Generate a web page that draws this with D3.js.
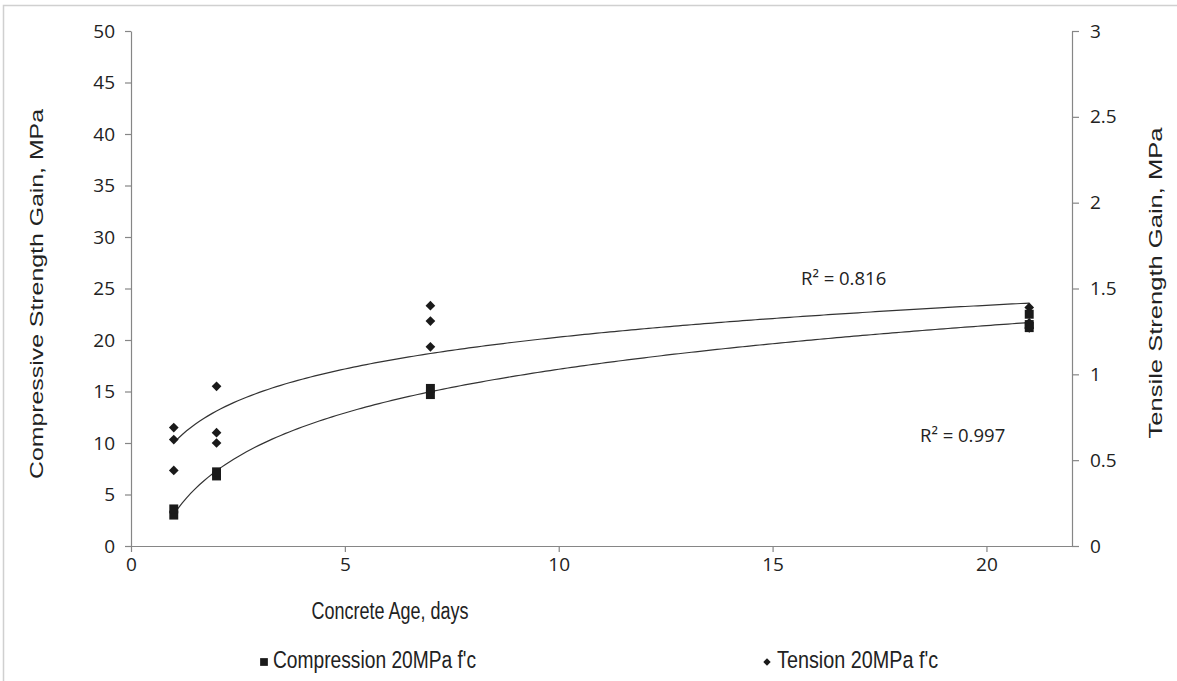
<!DOCTYPE html>
<html><head><meta charset="utf-8">
<script src="https://cdn.jsdelivr.net/npm/d3@7"></script>
<style>body{margin:0;background:#fff}svg{display:block}</style>
</head><body>
<script>
const compDays = [1,1,2,2,7,7,21,21,21];
const compValues = [3.0,3.6,6.8,7.2,14.7,15.3,22.5,21.5,21.2];
const tensDays = [1,1,1,2,2,2,7,7,7,21,21,21];
const tensValues = [0.69,0.62,0.44,0.93,0.66,0.60,1.40,1.31,1.16,1.39,1.30,1.27];
const xTicks = [0,5,10,15,20];
const leftTicks = [0,5,10,15,20,25,30,35,40,45,50];
const rightTicks = [0,0.5,1,1.5,2,2.5,3];
const r2Labels = ["R² = 0.997","R² = 0.816"];
const seriesNames = ["Compression 20MPa f'c","Tension 20MPa f'c"];

const W=1177,H=681;
const svg=d3.select("body").append("svg").attr("width",W).attr("height",H);
svg.append("rect").attr("x",3.5).attr("y",5.5).attr("width",W+10).attr("height",H+10)
  .attr("fill","none").attr("stroke","#d0d0d0").attr("stroke-width",1.5);

const L=131,R=1072,T=31,B=546;
const x=d3.scaleLinear().domain([0,22]).range([L,R]);
const yL=d3.scaleLinear().domain([0,50]).range([B,T]);
const yR=d3.scaleLinear().domain([0,3]).range([B,T]);
const axisColor="#868686";
const tickFont="'Open Sans', sans-serif";
const TS=19;

function style(g){
  g.selectAll("path,line").attr("stroke",axisColor).attr("stroke-width",1.2);
  g.selectAll("text").attr("font-family",tickFont).attr("font-size",TS).attr("fill","#222");
}
const gx=svg.append("g").attr("transform",`translate(0,${B})`)
  .call(d3.axisBottom(x).tickValues(xTicks).tickSize(6).tickSizeOuter(0).tickPadding(6));
style(gx);
const gl=svg.append("g").attr("transform",`translate(${L},0)`)
  .call(d3.axisLeft(yL).tickValues(leftTicks).tickSize(6).tickSizeOuter(0).tickPadding(10));
style(gl);
const gr=svg.append("g").attr("transform",`translate(${R},0)`)
  .call(d3.axisRight(yR).tickValues(rightTicks).tickFormat(d=>String(d)).tickSize(7).tickSizeOuter(0).tickPadding(11));
style(gr);

// log trend fits
function logFit(xs,ys){
  const lx=xs.map(Math.log),n=xs.length;
  const mx=d3.mean(lx),my=d3.mean(ys);
  let sxy=0,sxx=0;
  for(let i=0;i<n;i++){sxy+=(lx[i]-mx)*(ys[i]-my);sxx+=(lx[i]-mx)**2;}
  const a=sxy/sxx,b=my-a*mx;
  return t=>a*Math.log(t)+b;
}
const fc=logFit(compDays,compValues), ft=logFit(tensDays,tensValues);
const xs=d3.range(1,21.001,0.1);
const line=d3.line();
svg.append("path").attr("d",line(xs.map(t=>[x(t),yL(fc(t))])))
  .attr("fill","none").attr("stroke","#333").attr("stroke-width",1.2);
svg.append("path").attr("d",line(xs.map(t=>[x(t),yR(ft(t))])))
  .attr("fill","none").attr("stroke","#333").attr("stroke-width",1.2);

const sq=d3.symbol(d3.symbolSquare,80), dm=d3.symbol(d3.symbolDiamond2,60);
svg.append("g").selectAll("path").data(compDays).join("path")
  .attr("transform",(d,i)=>`translate(${x(d)},${yL(compValues[i])})`).attr("d",sq).attr("fill","#1a1a1a");
svg.append("g").selectAll("path").data(tensDays).join("path")
  .attr("transform",(d,i)=>`translate(${x(d)},${yR(tensValues[i])})`).attr("d",dm).attr("fill","#1a1a1a");

svg.append("text").attr("x",920).attr("y",442).text(r2Labels[0])
  .attr("font-family",tickFont).attr("font-size",18.5).attr("fill","#222");
svg.append("text").attr("x",801).attr("y",285).text(r2Labels[1])
  .attr("font-family",tickFont).attr("font-size",18.5).attr("fill","#222");

const titleFont="'Liberation Sans', Arial, sans-serif";
function stretchedText(tx,ty,txt,anchor,rot,fs,st){
  const g=svg.append("g").attr("transform",rot?`translate(${tx},${ty}) rotate(-90) scale(${st},1)`:`translate(${tx},${ty}) scale(1,${st})`);
  g.append("text").attr("text-anchor",anchor).text(txt)
    .attr("font-family",titleFont).attr("font-size",fs).attr("fill","#222");
}
stretchedText(43,294,"Compressive Strength Gain, MPa","middle",true,18,1.38);
stretchedText(1162,283,"Tensile Strength Gain, MPa","middle",true,18,1.42);
stretchedText(390,619,"Concrete Age, days","middle",false,18,1.32);

const lg=svg.append("g");
lg.append("path").attr("transform","translate(264,662)").attr("d",d3.symbol(d3.symbolSquare,60)).attr("fill","#1a1a1a");
stretchedText(273,668,seriesNames[0],"start",false,19.2,1.22);
lg.append("path").attr("transform","translate(767,662)").attr("d",d3.symbol(d3.symbolDiamond2,35)).attr("fill","#1a1a1a");
stretchedText(777,668,seriesNames[1],"start",false,19.8,1.2);
</script>
</body></html>
